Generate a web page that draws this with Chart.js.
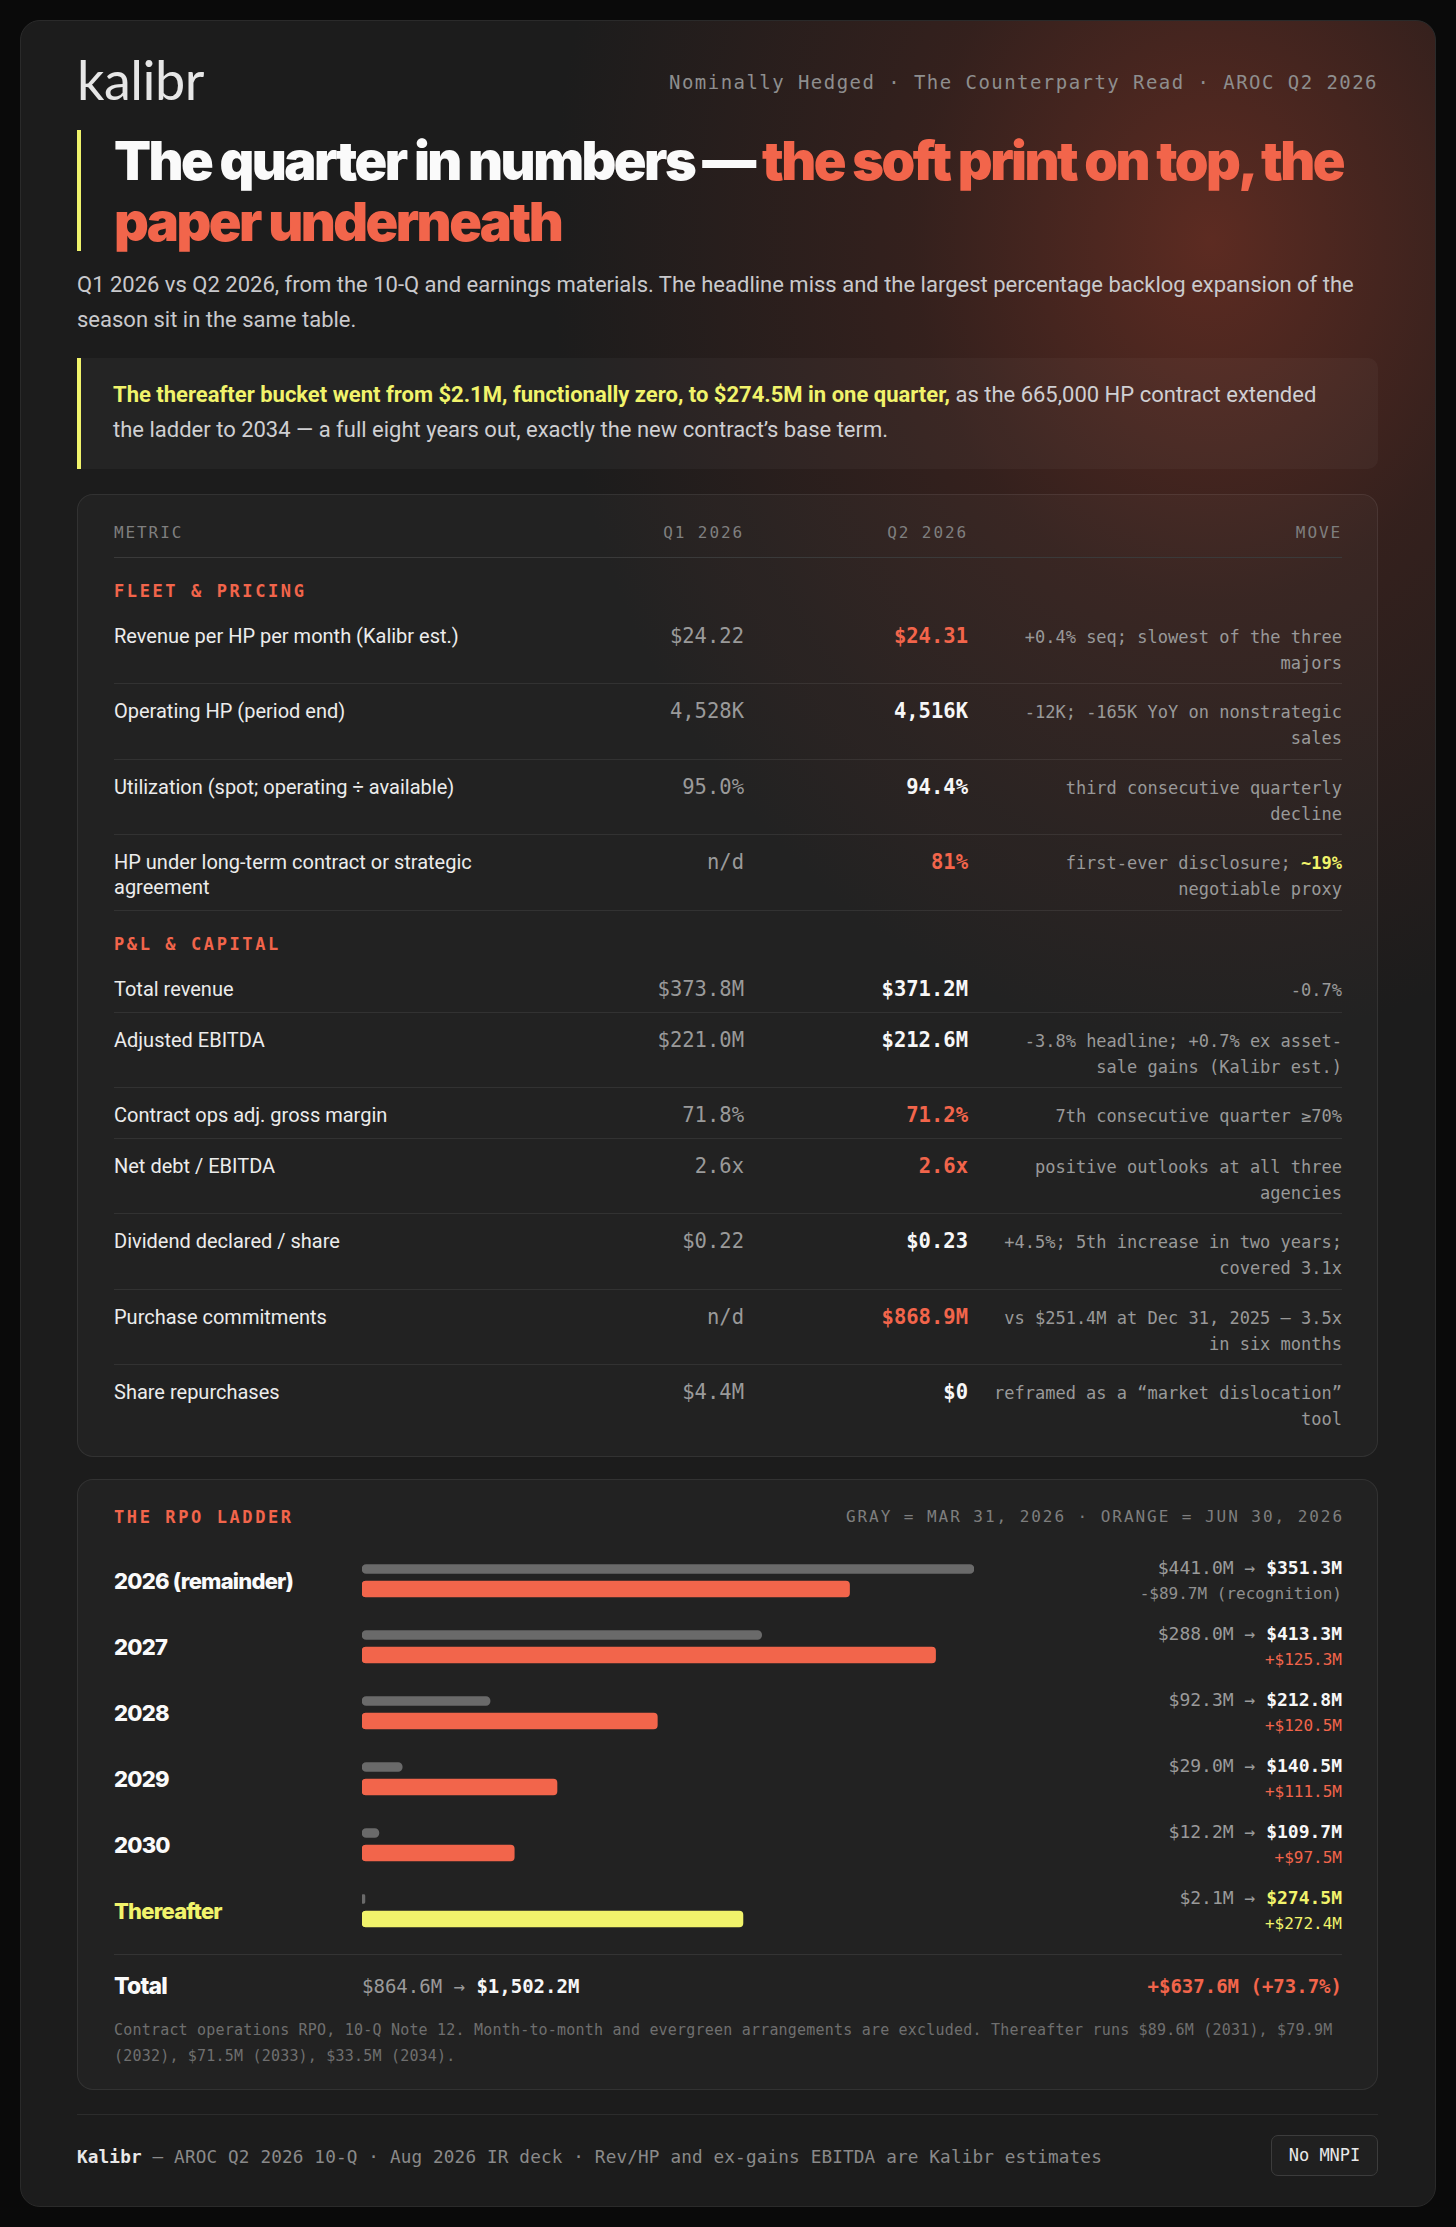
<!DOCTYPE html>
<html><head><meta charset="utf-8">
<script src="https://cdn.jsdelivr.net/npm/chart.js@4.4.1/dist/chart.umd.min.js"></script>
<style>
html,body{margin:0;padding:0;background:#0a0a0a;}
body{width:1456px;height:2227px;position:relative;overflow:hidden;font-family:Roboto,"Noto Sans",sans-serif;color:#eee;}
.page{position:absolute;left:20px;top:20px;width:1416px;height:2187px;box-sizing:border-box;border:1px solid #2a2a2a;border-radius:20px;
 background:radial-gradient(ellipse 660px 800px at 1190px 220px, rgba(96,44,34,0.95) 0%, rgba(72,36,30,0.55) 45%, rgba(28,28,28,0) 100%), #1c1c1c;}
.abs{position:absolute;white-space:nowrap;}
.mono{font-family:"DejaVu Sans Mono",monospace;}
.logo{left:77px;top:53px;font-family:Lato,sans-serif;font-weight:400;font-size:54px;line-height:54px;color:#e6e6e6;letter-spacing:-0.5px;}
.kicker{right:78px;top:70px;font-size:19px;line-height:24px;letter-spacing:1.45px;color:#8e8e8e;}
.tbar{left:77px;top:130px;width:4px;height:121px;background:#eef26b;}
.title{left:114px;top:130px;font-family:Inter,Lato,sans-serif;font-weight:900;font-size:54px;line-height:61px;color:#fafafa;letter-spacing:-1.5px;}
.title div{height:61px;}
.title span{display:inline;}
.title .o{color:#f2654b;}
.sub{left:77px;top:267px;width:1302px;white-space:normal;font-size:22px;line-height:35px;color:#c9c9cc;}
.callout{left:77px;top:358px;width:1301px;height:111px;box-sizing:border-box;border-left:4px solid #f1f36b;background:rgba(255,255,255,0.035);border-radius:0 10px 10px 0;padding:20px 30px 0 32px;font-size:22px;line-height:34.5px;color:#cfcfd2;}
.callout div{height:34.5px;white-space:nowrap;}
.callout b{color:#f1f36b;font-weight:700;}
.card{position:absolute;left:77px;width:1301px;box-sizing:border-box;border:1px solid rgba(255,255,255,0.075);border-radius:16px;background:rgba(255,255,255,0.028);}
.tcard{top:494px;height:963px;padding:28px 35px 0 36px;}
.grid{display:grid;grid-template-columns:420px 210px 224px 374px;}
.thead{font-family:"DejaVu Sans Mono",monospace;font-size:16px;letter-spacing:1.9px;line-height:20px;color:#7f7f7f;padding-bottom:14px;border-bottom:1px solid #3a3a3a;}
.r{text-align:right;}
.sec{height:51px;box-sizing:border-box;padding-top:23px;font-family:"DejaVu Sans Mono",monospace;font-weight:700;font-size:17px;line-height:20px;letter-spacing:2.6px;color:#f2654b;}
.row{box-sizing:border-box;padding-top:15px;border-bottom:1px solid rgba(255,255,255,0.075);}
.row.last{border-bottom:none;}
.lab{font-size:20px;line-height:25px;color:#ececec;padding-right:20px;}
.q1{font-family:"DejaVu Sans Mono",monospace;font-size:20.5px;line-height:25px;color:#9a9a9a;text-align:right;}
.q2{font-family:"DejaVu Sans Mono",monospace;font-size:20.5px;line-height:25px;color:#f7f7f7;font-weight:700;text-align:right;}
.q2.hot{color:#f2654b;}
.mv{padding-left:24px;font-family:"DejaVu Sans Mono",monospace;font-size:17px;line-height:26px;color:#999;text-align:right;}
.mv b{color:#f1f36b;}
.rcard{top:1479px;height:611px;}
.rtitle{left:114px;top:1507px;font-family:"DejaVu Sans Mono",monospace;font-weight:700;font-size:17px;line-height:20px;letter-spacing:2.6px;color:#f2654b;}
.rleg{right:112px;top:1507px;font-size:16px;line-height:20px;letter-spacing:1.95px;color:#7e7e7e;}
#chartWrap{position:absolute;left:362px;top:1546px;width:612px;height:396px;}
.ylab{left:114px;font-family:Inter,Lato,sans-serif;font-weight:800;font-size:22px;line-height:28px;letter-spacing:-0.8px;color:#fafafa;}
.ylab.y{color:#f1f36b;}
.rv1{right:114px;font-size:18px;line-height:22px;color:#9a9a9a;}
.rv1 b{color:#f7f7f7;}
.rv1 b.y{color:#f1f36b;}
.rv2{right:114px;font-size:16px;line-height:22px;color:#f2654b;}
.rv2.g{color:#8f8f8f;}
.rv2.y{color:#f1f36b;}
.rsep{left:114px;top:1954px;width:1228px;height:1px;background:#343434;}
.tot{left:114px;top:1972px;font-family:Inter,Lato,sans-serif;font-weight:800;font-size:23px;line-height:28px;letter-spacing:-0.8px;color:#fafafa;}
.totv{left:362px;top:1974px;font-size:19px;line-height:24px;color:#9a9a9a;}
.totv b{color:#f7f7f7;}
.totd{right:114px;top:1974px;font-size:19px;line-height:24px;color:#f2654b;font-weight:700;}
.fn{left:114px;top:2017px;width:1228px;white-space:normal;font-size:15px;letter-spacing:0.2px;line-height:26px;color:#6f6f6f;}
.fsep{left:77px;top:2114px;width:1301px;height:1px;background:#2c2c2c;}
.foot{left:77px;top:2145px;font-size:17.7px;letter-spacing:0.14px;line-height:24px;color:#8a8a8a;}
.foot b{color:#e8e8e8;}
.badge{left:1271px;top:2135px;width:107px;height:41px;box-sizing:border-box;border:1px solid #3c3c3c;border-radius:7px;text-align:center;font-size:17px;line-height:39px;color:#e8e8e8;background:rgba(255,255,255,0.02);}
</style></head>
<body>
<div class="page"></div>
<div class="abs logo">kalibr</div>
<div class="abs kicker mono" id="kicker"></div>
<div class="abs tbar"></div>
<div class="abs title" id="title"></div>
<div class="abs sub" id="sub"></div>
<div class="abs callout" id="callout"></div>
<div class="card tcard" id="tcard"></div>
<div class="card rcard"></div>
<div class="abs rtitle" id="rtitle"></div>
<div class="abs rleg mono" id="rleg"></div>
<div id="chartWrap"><canvas id="rpo"></canvas></div>
<div id="rpoText"></div>
<div class="abs rsep"></div>
<div class="abs tot">Total</div>
<div class="abs totv mono" id="totv"></div>
<div class="abs totd mono" id="totd"></div>
<div class="abs fn mono" id="fn"></div>
<div class="abs fsep"></div>
<div class="abs foot mono" id="foot"></div>
<div class="abs badge mono">No MNPI</div>
<script>
// ---------- text ----------
const kickerText = 'Nominally Hedged · The Counterparty Read · AROC Q2 2026';
const titleLine1White = 'The quarter in numbers — ';
const titleLine1Orange = 'the soft print on top, the';
const titleLine2Orange = 'paper underneath';
const subText = 'Q1 2026 vs Q2 2026, from the 10-Q and earnings materials. The headline miss and the largest percentage backlog expansion of the season sit in the same table.';
const calloutBold = 'The thereafter bucket went from $2.1M, functionally zero, to $274.5M in one quarter,';
const calloutLine1Rest = ' as the 665,000 HP contract extended';
const calloutLine2 = 'the ladder to 2034 — a full eight years out, exactly the new contract’s base term.';

// ---------- table data ----------
const tableHeaders = ['METRIC', 'Q1 2026', 'Q2 2026', 'MOVE'];
const sectionNames = ['FLEET & PRICING', 'P&L & CAPITAL'];
const metricSection = [0, 0, 0, 0, 1, 1, 1, 1, 1, 1, 1];
const metricNames = [
  'Revenue per HP per month (Kalibr est.)',
  'Operating HP (period end)',
  'Utilization (spot; operating ÷ available)',
  'HP under long-term contract or strategic agreement',
  'Total revenue',
  'Adjusted EBITDA',
  'Contract ops adj. gross margin',
  'Net debt / EBITDA',
  'Dividend declared / share',
  'Purchase commitments',
  'Share repurchases'
];
const q1Values = ['$24.22', '4,528K', '95.0%', 'n/d', '$373.8M', '$221.0M', '71.8%', '2.6x', '$0.22', 'n/d', '$4.4M'];
const q2Values = ['$24.31', '4,516K', '94.4%', '81%', '$371.2M', '$212.6M', '71.2%', '2.6x', '$0.23', '$868.9M', '$0'];
const q2Flagged = [true, false, false, true, false, false, true, true, false, true, false];
const moveNotes = [
  '+0.4% seq; slowest of the three majors',
  '-12K; -165K YoY on nonstrategic sales',
  'third consecutive quarterly decline',
  'first-ever disclosure; [~19%] negotiable proxy',
  '-0.7%',
  '-3.8% headline; +0.7% ex asset-sale gains (Kalibr est.)',
  '7th consecutive quarter ≥70%',
  'positive outlooks at all three agencies',
  '+4.5%; 5th increase in two years; covered 3.1x',
  'vs $251.4M at Dec 31, 2025 — 3.5x in six months',
  'reframed as a “market dislocation” tool'
];

// ---------- RPO ladder data ($M) ----------
const rpoTitle = 'THE RPO LADDER';
const rpoLegend = 'GRAY = MAR 31, 2026 · ORANGE = JUN 30, 2026';
const rpoYears = ['2026 (remainder)', '2027', '2028', '2029', '2030', 'Thereafter'];
const rpoMar31 = [441.0, 288.0, 92.3, 29.0, 12.2, 2.1];
const rpoJun30 = [351.3, 413.3, 212.8, 140.5, 109.7, 274.5];
const rpoDeltaText = ['-$89.7M (recognition)', '+$125.3M', '+$120.5M', '+$111.5M', '+$97.5M', '+$272.4M'];
const rpoTotalMar = '$864.6M';
const rpoTotalJun = '$1,502.2M';
const rpoTotalDelta = '+$637.6M (+73.7%)';
const footnoteText = 'Contract operations RPO, 10-Q Note 12. Month-to-month and evergreen arrangements are excluded. Thereafter runs $89.6M (2031), $79.9M (2032), $71.5M (2033), $33.5M (2034).';
const footerBold = 'Kalibr';
const footerRest = ' — AROC Q2 2026 10-Q · Aug 2026 IR deck · Rev/HP and ex-gains EBITDA are Kalibr estimates';

const ORANGE = '#f2654b', YELLOW = '#f1f36b', GRAY = '#6a6a6a';
const esc = s => s.replace(/&/g,'&amp;').replace(/</g,'&lt;');
const fmt = v => '$' + v.toFixed(1) + 'M';

document.getElementById('kicker').textContent = kickerText;
const titleEl = document.getElementById('title');
titleEl.innerHTML = '<div><span id="t1">' + esc(titleLine1White) + '<span class="o">' + esc(titleLine1Orange) + '</span></span></div>' +
  '<div class="o">' + esc(titleLine2Orange) + '</div>';
// fit first title line to the reference measure (~1229px)
(function () {
  const t1 = document.getElementById('t1');
  const w = t1.getBoundingClientRect().width;
  const n = (titleLine1White + titleLine1Orange).length;
  const ls = -1.5 + (1229 - w) / n;
  titleEl.style.letterSpacing = ls.toFixed(2) + 'px';
})();
document.getElementById('sub').textContent = subText;
document.getElementById('callout').innerHTML = '<div><b>' + esc(calloutBold) + '</b>' + esc(calloutLine1Rest) + '</div><div>' + esc(calloutLine2) + '</div>';
document.getElementById('rtitle').textContent = rpoTitle;
document.getElementById('rleg').textContent = rpoLegend;
document.getElementById('totv').innerHTML = esc(rpoTotalMar) + ' → <b>' + esc(rpoTotalJun) + '</b>';
document.getElementById('totd').textContent = rpoTotalDelta;
document.getElementById('fn').textContent = footnoteText;
document.getElementById('foot').innerHTML = '<b>' + esc(footerBold) + '</b>' + esc(footerRest);

// ---------- build table ----------
const tcard = document.getElementById('tcard');
let html = '<div class="grid thead"><div>' + tableHeaders[0] + '</div><div class="r">' + tableHeaders[1] +
  '</div><div class="r">' + tableHeaders[2] + '</div><div class="r">' + tableHeaders[3] + '</div></div>';
let lastSec = -1;
metricNames.forEach((name, i) => {
  if (metricSection[i] !== lastSec) {
    lastSec = metricSection[i];
    html += '<div class="sec">' + esc(sectionNames[lastSec]) + '</div>';
  }
  const note = esc(moveNotes[i]).replace(/\[(.*?)\]/g, '<b>$1</b>');
  html += '<div class="grid row' + (i === metricNames.length - 1 ? ' last' : '') + '">' +
    '<div class="lab">' + esc(name) + '</div>' +
    '<div class="q1">' + esc(q1Values[i]) + '</div>' +
    '<div class="q2' + (q2Flagged[i] ? ' hot' : '') + '">' + esc(q2Values[i]) + '</div>' +
    '<div class="mv">' + note + '</div></div>';
});
tcard.innerHTML = html;
tcard.querySelectorAll('.row').forEach(row => {
  const lab = row.querySelector('.lab'), mv = row.querySelector('.mv');
  const lines = Math.max(Math.round(lab.offsetHeight / 25), Math.round(mv.offsetHeight / 26));
  row.style.height = (lines > 1 ? 75.4 : 51) + 'px';
});

// ---------- RPO labels ----------
const rowTop = 1546, rowH = 66;
let rt = '';
rpoYears.forEach((y, i) => {
  const c = rowTop + rowH * (i + 0.5);
  const last = i === rpoYears.length - 1;
  rt += '<div class="abs ylab' + (last ? ' y' : '') + '" style="top:' + (c + 2 - 14) + 'px">' + esc(y) + '</div>';
  rt += '<div class="abs mono rv1" style="top:' + (c - 11 - 11) + 'px">' + fmt(rpoMar31[i]) + ' → <b' + (last ? ' class="y"' : '') + '>' + fmt(rpoJun30[i]) + '</b></div>';
  rt += '<div class="abs mono rv2' + (i === 0 ? ' g' : (last ? ' y' : '')) + '" style="top:' + (c + 15 - 11) + 'px">' + esc(rpoDeltaText[i]) + '</div>';
});
document.getElementById('rpoText').innerHTML = rt;

// ---------- RPO chart ----------
const xMax = Math.max(...rpoMar31, ...rpoJun30);
new Chart(document.getElementById('rpo'), {
  type: 'bar',
  data: {
    labels: rpoYears,
    datasets: [
      { label: 'Mar 31, 2026', data: rpoMar31, backgroundColor: GRAY, barThickness: 20, maxBarThickness: 9, borderRadius: 5, borderSkipped: false },
      { label: 'Jun 30, 2026', data: rpoJun30, backgroundColor: rpoYears.map((_, i) => i === rpoYears.length - 1 ? YELLOW : ORANGE), barThickness: 20, maxBarThickness: 16, borderRadius: 4, borderSkipped: false }
    ]
  },
  options: {
    indexAxis: 'y',
    responsive: true,
    maintainAspectRatio: false,
    animation: false,
    layout: { padding: 0 },
    plugins: { legend: { display: false }, tooltip: { enabled: false } },
    scales: {
      x: { display: false, min: 0, max: xMax, grid: { display: false } },
      y: { display: false, offset: true, grid: { display: false } }
    }
  }
});
</script>
</body></html>
